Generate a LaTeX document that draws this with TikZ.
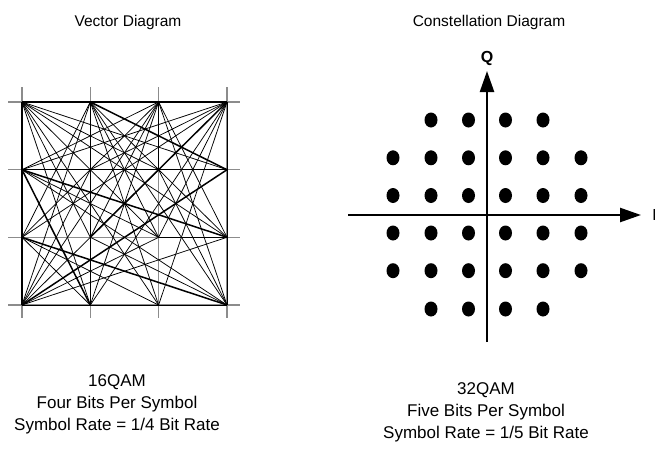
\documentclass[tikz,border=0pt]{standalone}
\usepackage{fontspec}
\setmainfont{Liberation Sans}
\usetikzlibrary{arrows.meta,shapes.geometric}
\begin{document}
\begin{tikzpicture}[x=1pt,y=-1pt,
  gridline/.style={draw=black!45, line width=1.1pt},
  vec/.style={draw=black, line width=0.75pt},
  vecthick/.style={draw=black, line width=1.5pt},
  dot/.style={shape=ellipse, fill=black, inner sep=0pt, minimum width=13pt, minimum height=15pt},
  axis/.style={draw=black, line width=2.4pt, -{Triangle[length=21pt,width=14pt]}},
  lbl/.style={font=\fontsize{17}{22}\selectfont, align=center, inner sep=0pt},
  ttl/.style={font=\fontsize{15.5}{19}\selectfont, inner sep=0pt},
  axlbl/.style={font=\fontsize{16}{19}\selectfont\bfseries, inner sep=0pt}]
\useasboundingbox (0,0) rectangle (655,458);
% grid points
\foreach \c/\x in {0/22,1/90.3,2/158.6,3/227}{
  \foreach \r/\y in {0/102,1/169.7,2/237.3,3/305}{
    \coordinate (p\c\r) at (\x,\y);
  }}
% grid extension lines
\foreach \r in {0,1,2,3}{
  \coordinate (gl\r) at ([xshift=-14pt]p0\r);
  \coordinate (gr\r) at ([xshift=13pt]p3\r);
  \draw[gridline] (gl\r) -- (gr\r);}
\foreach \c in {0,1,2,3}{
  \coordinate (gt\c) at ([yshift=15pt]p\c0);
  \coordinate (gb\c) at ([yshift=-13pt]p\c3);
  \draw[gridline] (gt\c) -- (gb\c);}
% black segments on grid
\draw[vecthick] (p00) -- (p30);
\draw[vecthick] (p00) -- (p03);
\draw[vecthick] (p10) -- (p13);
\draw[vecthick] (p01) -- (p31);
\draw[vecthick] (p22) -- (p32);
\draw[vec] (p03) -- (p33);
\draw[vec] (p30) -- (p33);
\draw[vec] (p20) -- (p21);
% thin transitions
\foreach \a/\b in {00/31,00/21,00/32,00/22,00/23,00/12,00/13,
  10/02,10/32,10/23,10/22,10/33,
  20/01,20/02,20/03,20/13,20/12,20/32,20/33,
  30/01,30/11,30/02,30/22,30/23,30/13,
  01/33,01/22,
  03/22,03/21,03/11,03/10,03/32,
  33/12,33/21,
  02/13,02/23}{
  \draw[vec] (p\a) -- (p\b);}
% thick transitions
\foreach \a/\b in {10/31,01/32,02/33,01/13,03/31,30/12}{
  \draw[vecthick] (p\a) -- (p\b);}
% constellation
\coordinate (xl) at (348,215);
\coordinate (xr) at (641,215);
\coordinate (yb) at (487,342);
\coordinate (yt) at (487,71);
\draw[axis] (xl) -- (xr);
\draw[axis] (yb) -- (yt);
\node[axlbl] (qlab) at (487,58) {Q};
\node[axlbl, anchor=west] (ilab) at (652.5,215) {I};
\foreach \i/\x in {1/393,2/431,3/468.5,4/505.5,5/543,6/581}{
  \foreach \j/\y in {1/120,2/157.8,3/195.5,4/233,5/270.7,6/309}{
    \pgfmathtruncatemacro{\corner}{((\i==1)||(\i==6))&&((\j==1)||(\j==6))}
    \ifnum\corner=0
      \node[dot] (d\i\j) at (\x,\y) {};
    \fi
  }}
% texts
\node[ttl] (t1) at (128,22) {Vector Diagram};
\node[ttl] (t2) at (489,22) {Constellation Diagram};
\node[lbl, anchor=north] (b1) at (117,374) {16QAM\\Four Bits Per Symbol\\Symbol Rate = 1/4 Bit Rate};
\node[lbl, anchor=north] (b2) at (486,382) {32QAM\\Five Bits Per Symbol\\Symbol Rate = 1/5 Bit Rate};
\end{tikzpicture}
\end{document}
